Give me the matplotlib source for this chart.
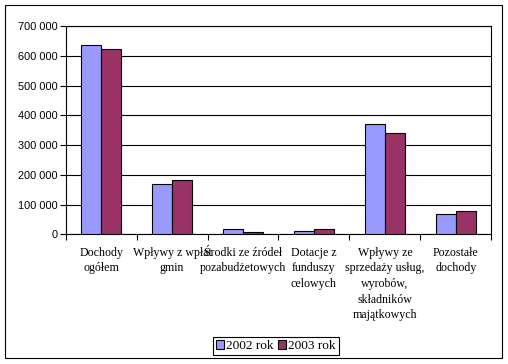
import matplotlib.pyplot as plt
import numpy as np
from matplotlib.patches import Rectangle

# Category labels (wrapped as in the original Excel chart)
categories = [
    'Dochody\nogółem',
    'Wpływy z wpłat\ngmin',
    'Środki ze źródeł\npozabudżetowych',
    'Dotacje z\nfunduszy\ncelowych',
    'Wpływy ze\nsprzedaży usług,\nwyrobów,\nskładników\nmajątkowych',
    'Pozostałe\ndochody',
]

# Values
values_2002 = [636000, 168000, 16800, 11000, 370000, 67300]
values_2003 = [621000, 181700, 6700, 17800, 340000, 78400]

y_ticks = [0, 100000, 200000, 300000, 400000, 500000, 600000, 700000]
y_tick_labels = ['0', '100 000', '200 000', '300 000', '400 000', '500 000', '600 000', '700 000']

COLOR_2002 = '#9999FF'
COLOR_2003 = '#993366'

fig = plt.figure(figsize=(5.08, 3.64), dpi=100)
ax = fig.add_axes([0.1293, 0.3563, 0.8378, 0.5723])

x = np.arange(len(categories))
width = 0.2857

ax.bar(x - width / 2, values_2002, width, color=COLOR_2002, edgecolor='black', linewidth=0.8, label='2002 rok', zorder=3)
ax.bar(x + width / 2, values_2003, width, color=COLOR_2003, edgecolor='black', linewidth=0.8, label='2003 rok', zorder=3)

ax.set_xlim(-0.5, len(categories) - 0.5)
ax.set_ylim(0, 700000)

# Horizontal gridlines
ax.set_yticks(y_ticks)
ax.set_yticklabels(y_tick_labels, fontfamily='Liberation Sans', fontsize=7.9)
ax.yaxis.grid(True, color='black', linewidth=0.8, zorder=0)
ax.tick_params(axis='y', length=4, width=0.8, pad=2, direction='out')

# Category labels with boundary ticks
ax.set_xticks(x)
ax.set_xticklabels(categories, fontfamily='Liberation Serif', fontsize=8.6, linespacing=1.4)
ax.set_xticks(np.arange(-0.5, len(categories), 1.0), minor=True)
ax.tick_params(axis='x', which='major', length=0, pad=9)
ax.tick_params(axis='x', which='minor', length=4, width=0.8, direction='out')

for spine in ax.spines.values():
    spine.set_linewidth(0.8)
    spine.set_color('black')

# Legend
leg = fig.legend(loc='center', bbox_to_anchor=(0.543, 0.0495), ncol=2,
                 prop={'family': 'Liberation Serif', 'size': 9.6},
                 fancybox=False, edgecolor='black', framealpha=1,
                 handlelength=0.6, handleheight=0.6, handletextpad=0.15,
                 columnspacing=0.3, borderpad=0.25, borderaxespad=0)
leg.get_frame().set_linewidth(0.8)

# Outer chart frame
fig.patches.append(Rectangle((0.0104, 0.0173), 0.977, 0.968, transform=fig.transFigure,
                             fill=False, edgecolor='black', linewidth=0.8))

plt.savefig('out.png', dpi=100)
